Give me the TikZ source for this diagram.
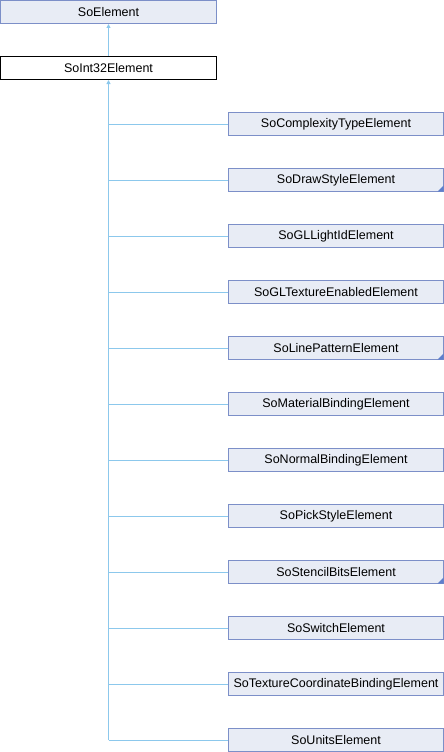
\documentclass[tikz,border=0pt]{standalone}
\usepackage{fontspec}
\setmainfont{Liberation Sans}
\usetikzlibrary{arrows.meta}
\definecolor{boxfill}{HTML}{E8ECF5}
\definecolor{boxline}{HTML}{7C8FC8}
\definecolor{edge}{HTML}{8CC8EC}
\definecolor{corner}{HTML}{5F7FCC}
\begin{document}
\begin{tikzpicture}[x=1pt,y=-1pt,
  cls/.style={draw=boxline,fill=boxfill,line width=1pt,minimum height=23pt,inner sep=0pt,font=\fontsize{12.5}{14}\selectfont},
  parentbox/.style={cls,minimum width=216pt},
  childbox/.style={cls,minimum width=215pt},
  curbox/.style={parentbox,draw=black,fill=white},
  edgeline/.style={draw=edge,line width=1pt},
  inh/.style={edgeline,-{Triangle[open,length=4pt,width=4pt,fill=edge]}},
  more/.style={fill=corner}]
\useasboundingbox (0,0) rectangle (444,752);
\node[parentbox] (elem) at (108.5,12) {SoElement};
\node[curbox] (int32) at (108.5,68) {SoInt32Element};
\draw[inh] (int32.north) -- (elem.south);
\foreach \n/\t [count=\i] in {
  c1/SoComplexityTypeElement,
  c2/SoDrawStyleElement,
  c3/SoGLLightIdElement,
  c4/SoGLTextureEnabledElement,
  c5/SoLinePatternElement,
  c6/SoMaterialBindingElement,
  c7/SoNormalBindingElement,
  c8/SoPickStyleElement,
  c9/SoStencilBitsElement,
  c10/SoSwitchElement,
  c11/SoTextureCoordinateBindingElement,
  c12/SoUnitsElement} {
  \node[childbox,anchor=west] (\n) at (228,68+56*\i) {\t};
}
\coordinate (trunk) at (int32.south |- c12.west);
\draw[edgeline] (trunk) -- (c12.west);
\draw[inh] (trunk) -- (int32.south);
\foreach \n in {c1,c2,c3,c4,c5,c6,c7,c8,c9,c10,c11} {
  \draw[edgeline] (int32.south |- \n.west) -- (\n.west);
}
\foreach \n in {c2,c5,c9} {
  \fill[more] ([shift={(-0.5,-0.5)}]\n.south east) -- ++(-6,0) -- ++(6,-6) -- cycle;
}
\end{tikzpicture}
\end{document}
